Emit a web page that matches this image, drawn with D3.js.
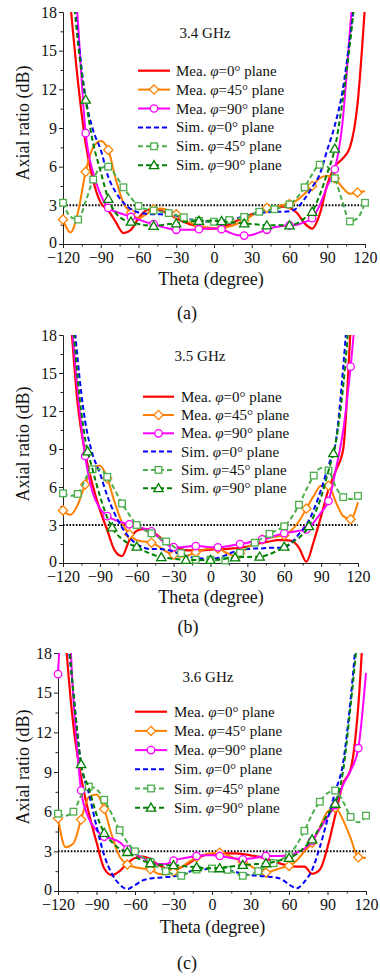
<!DOCTYPE html>
<html>
<head>
<meta charset="utf-8">
<script src="https://cdn.jsdelivr.net/npm/d3@7"></script>
<style>
  body { margin: 0; background: #fff; }
  svg { font-family: "Liberation Serif", "Times New Roman", serif; }
</style>
</head>
<body>
<svg id="chart" width="380" height="977"></svg>
<script>
// theta grid (degree) shared by every series
const theta = [-120,-114,-108,-102,-96,-90,-84,-78,-72,-66,-60,-54,-48,-42,-36,-30,-24,-18,-12,-6,
  0,6,12,18,24,30,36,42,48,54,60,66,72,78,84,90,96,102,108,114,120];

// (a) 3.4 GHz
const mea0A  = [25,18.5,12.5,7.8,4.9,3.2,2.6,1.7,0.85,1.1,2.0,2.6,2.7,2.6,2.3,2.0,1.7,1.5,1.3,1.2,1.2,1.3,1.5,1.8,2.1,2.3,2.5,2.7,2.8,2.9,2.8,2.4,1.6,1.2,2.3,4.6,6.0,6.6,7.5,10.8,18.5];
const mea45A = [1.9,0.9,2.5,5.6,7.5,8.0,7.3,5.0,3.2,2.4,2.0,2.3,2.7,2.75,2.6,2.3,1.9,1.6,1.4,1.3,1.25,1.25,1.35,1.55,1.8,2.2,2.5,2.8,2.9,3.0,3.1,3.4,3.9,4.5,5.1,5.3,5.1,4.4,3.9,4.0,4.1];
const mea90A = [32,26,17,8.6,5.5,3.8,2.8,2.5,2.3,2.1,1.9,1.7,1.55,1.35,1.2,1.1,1.1,1.1,1.15,1.2,1.2,1.15,0.9,0.7,0.65,0.7,0.9,1.1,1.3,1.4,1.45,1.5,1.7,2.0,3.0,4.5,5.8,9.3,16.5,24,32];
const sim0A  = [30,22,16,11.3,8.8,7.3,5.2,4.0,3.2,2.7,2.45,2.35,2.3,2.3,2.25,2.2,2.0,1.9,1.8,1.75,1.75,1.8,1.9,2.0,2.15,2.3,2.4,2.45,2.5,2.5,2.55,2.8,3.5,4.4,5.4,7.3,9.2,11.8,16,21,27];
const sim45A = [3.2,2.1,1.9,3.3,5.0,5.9,6.0,5.3,4.4,3.6,2.95,2.7,2.6,2.5,2.4,2.25,2.07,1.9,1.8,1.75,1.73,1.78,1.86,1.95,2.1,2.3,2.5,2.6,2.7,2.85,3.07,3.6,4.4,5.4,6.15,6.0,5.1,3.3,1.75,2.0,3.2];
const sim90A = [30,22,15.5,11.2,7.8,5.6,3.5,2.4,1.9,1.73,1.55,1.45,1.4,1.45,1.55,1.6,1.7,1.75,1.8,1.8,1.8,1.78,1.7,1.65,1.6,1.55,1.5,1.45,1.45,1.45,1.45,1.6,2.0,2.5,3.8,5.5,7.4,11.0,15.5,21,27];

// (b) 3.5 GHz
const mea0B  = [26,19.5,12.5,8.7,6.2,4.2,2.6,1.0,0.55,1.8,2.55,2.7,2.55,2.1,1.6,1.3,1.1,1.0,1.0,1.0,1.05,1.1,1.1,1.15,1.2,1.3,1.45,1.6,1.7,1.8,1.8,1.75,1.2,0.1,1.7,3.7,5.8,7.3,9.0,18.5,28];
const mea45B = [4.15,3.8,4.6,6.2,7.4,7.7,6.7,4.8,3.2,2.25,1.8,1.7,1.6,1.3,0.9,0.65,0.5,0.6,0.85,1.05,1.15,1.15,0.85,0.6,0.75,1.2,1.6,1.85,2.0,2.1,2.2,2.6,3.3,4.3,5.3,6.1,6.1,4.8,3.7,3.45,4.8];
const mea90B = [30,20.5,13.5,8.45,5.6,4.3,3.7,3.4,3.2,3.05,2.9,2.7,2.5,2.0,1.5,1.25,1.25,1.3,1.34,1.3,1.25,1.24,1.3,1.4,1.5,1.6,1.75,1.87,2.0,2.2,2.35,2.45,2.55,2.65,3.2,4.0,4.9,7.4,10.5,15.5,22];
const sim0B  = [32,23,16,11.2,8.6,7.1,5.3,3.9,2.8,2.0,1.5,1.2,1.1,1.1,1.05,0.9,0.7,0.5,0.4,0.35,0.35,0.4,0.6,0.85,1.0,1.1,1.15,1.15,1.2,1.2,1.25,1.6,2.3,3.0,4.2,5.8,7.7,9.6,15.5,23,30];
const sim45B = [5.5,5.3,5.45,6.6,7.4,7.4,6.8,5.8,4.7,3.8,3.0,2.6,2.34,2.0,1.7,1.3,0.78,0.45,0.25,0.22,0.26,0.22,0.2,0.45,0.8,1.2,1.6,1.95,2.3,2.6,2.9,3.6,4.6,5.8,6.9,7.5,7.3,6.0,5.2,5.05,5.3];
const sim90B = [32,22,14.5,9.8,7.4,5.3,3.6,2.5,1.9,1.5,1.29,0.95,0.7,0.5,0.4,0.33,0.27,0.24,0.23,0.23,0.24,0.28,0.34,0.42,0.47,0.48,0.49,0.52,0.7,0.95,1.29,1.6,2.0,2.6,3.7,5.2,7.3,9.6,14,21,30];

// (c) 3.6 GHz
const mea0C  = [28,19,12.5,8.6,5.9,3.7,1.7,1.2,1.5,2.1,2.5,2.6,2.4,2.0,1.7,1.6,1.8,2.1,2.45,2.7,2.8,2.85,2.85,2.85,2.8,2.7,2.6,2.45,2.25,2.05,1.9,1.85,1.85,1.3,1.6,3.3,5.7,8.1,9.2,14,24];
const mea45C = [5.5,3.3,3.6,5.4,7.1,7.3,6.2,4.2,2.6,2.0,1.8,1.7,1.64,1.3,1.25,1.46,1.8,2.2,2.55,2.75,2.85,2.9,2.7,2.45,2.2,1.9,1.55,1.39,1.55,1.75,1.9,2.3,3.0,3.66,4.8,6.0,6.3,5.4,4.0,2.55,2.5];
const mea90C = [16.4,24,14.5,7.6,5.5,4.6,4.1,3.95,3.7,3.15,2.8,2.5,2.2,2.05,2.05,2.3,2.45,2.55,2.65,2.7,2.7,2.65,2.55,2.45,2.4,2.45,2.55,2.65,2.65,2.65,2.7,2.9,3.2,3.8,4.7,5.6,6.5,8.0,9.1,10.8,16.5];
const sim0C  = [30,21,15,9.6,7.4,4.9,2.7,1.3,0.5,0.15,0.45,0.8,0.95,1.0,1.05,1.1,1.25,1.45,1.6,1.65,1.7,1.7,1.6,1.45,1.3,1.2,1.15,1.1,1.05,0.9,0.5,0.2,0.7,1.6,3.3,5.4,7.5,9.6,14.5,21,28];
const sim45C = [5.85,5.7,6.0,7.2,7.9,7.7,6.9,5.8,4.6,3.7,3.0,2.55,2.2,1.8,1.5,1.25,1.15,1.4,1.62,1.7,1.7,1.7,1.6,1.35,1.15,1.25,1.5,1.8,2.1,2.4,2.7,3.5,4.55,5.8,6.75,7.4,7.6,6.8,5.6,5.2,5.7];
const sim90C = [30,22,15,9.6,7.8,5.8,4.4,3.7,3.2,2.95,2.6,2.3,2.1,2.0,1.95,1.95,1.9,1.85,1.8,1.75,1.72,1.72,1.8,1.9,1.97,2.0,2.05,2.1,2.2,2.35,2.5,2.8,3.3,3.9,4.8,5.8,6.6,9.0,14,20,27];

// marker positions (degree)
const marks18 = [-120,-102,-84,-66,-48,-30,-12,6,24,42,60,78,96,114];
const marks12 = [-120,-108,-96,-84,-72,-60,-48,-36,-24,-12,0,12,24,36,48,60,72,84,96,108,120];
const marks20 = [-120,-100,-80,-60,-40,-20,0,20,40,60,80,100,120];

const xTicks = [-120,-90,-60,-30,0,30,60,90,120];
const yTicks = [0,3,6,9,12,15,18];
const refLevel = 3;
const freqs = ["3.4 GHz","3.5 GHz","3.6 GHz"];
const captions = ["(a)","(b)","(c)"];
const legendPre = ["Mea. ","Mea. ","Mea. ","Sim. ","Sim. ","Sim. "];
const legendPost = ["=0\u00b0 plane","=45\u00b0 plane","=90\u00b0 plane","=0\u00b0 plane","=45\u00b0 plane","=90\u00b0 plane"];

const styles = [
  { color: "#ff0000", dash: null,  marker: null,       width: 2.2 },
  { color: "#ff8000", dash: null,  marker: "diamond",  width: 2 },
  { color: "#ff00ff", dash: null,  marker: "circle",   width: 2 },
  { color: "#0000ff", dash: "5,3", marker: null,       width: 2 },
  { color: "#4cae4c", dash: "5,3", marker: "square",   width: 2 },
  { color: "#008000", dash: "5,3", marker: "triangle", width: 2 }
];

const panels = [
  { series: [mea0A, mea45A, mea90A, sim0A, sim45A, sim90A], marks: [null, marks18, marks18, null, marks12, marks18],
    left: 63, right: 365, top: 12, bottom: 244,
    leg: { x0: 138, x1: 170, tx: 176, y0: 70.7, dy: 18.9 }, freq: [205, 38], xt: [211, 285], cap: [187, 319] },
  { series: [mea0B, mea45B, mea90B, sim0B, sim45B, sim90B], marks: [null, marks18, marks18, null, marks12, marks20],
    left: 63, right: 358, top: 335, bottom: 563,
    leg: { x0: 143, x1: 174, tx: 181, y0: 396.7, dy: 18.3 }, freq: [200, 361], xt: [211, 603], cap: [188, 633] },
  { series: [mea0C, mea45C, mea90C, sim0C, sim45C, sim90C], marks: [null, marks18, marks18, null, marks12, marks18],
    left: 58, right: 366, top: 653, bottom: 891,
    leg: { x0: 135, x1: 167, tx: 174, y0: 711.7, dy: 19.2 }, freq: [208, 682], xt: [212.5, 933], cap: [187, 969] }
];

const svg = d3.select("#chart");

function drawMarker(g, type, x, y, color) {
  let el;
  if (type === "circle") {
    el = g.append("circle").attr("cx", x).attr("cy", y).attr("r", 3.7);
  } else if (type === "diamond") {
    const r = 4.6;
    el = g.append("path").attr("d", `M${x},${y - r}L${x + r},${y}L${x},${y + r}L${x - r},${y}Z`);
  } else if (type === "square") {
    const r = 3.3;
    el = g.append("rect").attr("x", x - r).attr("y", y - r).attr("width", 2 * r).attr("height", 2 * r);
  } else {
    el = g.append("path").attr("d", d3.symbol(d3.symbolTriangle, 38)()).attr("transform", `translate(${x},${y + 0.8})`);
  }
  el.attr("fill", "#fff").attr("stroke", color).attr("stroke-width", 1.3);
}

// find the point of a rendered (x-monotonic) path at a given x
function pointAtX(node, px) {
  let lo = 0, hi = node.getTotalLength();
  for (let i = 0; i < 40; i++) {
    const mid = (lo + hi) / 2;
    if (node.getPointAtLength(mid).x < px) lo = mid; else hi = mid;
  }
  return node.getPointAtLength((lo + hi) / 2);
}

panels.forEach((p, pi) => {
  const x = d3.scaleLinear().domain([-120, 120]).range([p.left, p.right]);
  const y = d3.scaleLinear().domain([0, 18]).range([p.bottom, p.top]);
  const g = svg.append("g");

  const clipId = "clip" + pi;
  svg.append("clipPath").attr("id", clipId).append("rect")
    .attr("x", p.left - 6).attr("y", p.top).attr("width", p.right - p.left + 12).attr("height", p.bottom - p.top + 6);

  // axes
  const xAxis = d3.axisBottom(x).tickValues(xTicks).tickSize(4).tickPadding(4).tickFormat(d3.format("d"));
  const xMinor = d3.axisBottom(x).tickValues(xTicks.slice(0, -1).map(t => t + 15)).tickSize(2.5).tickFormat("");
  const yAxis = d3.axisLeft(y).tickValues(yTicks).tickSize(4).tickPadding(2);
  const yMinor = d3.axisLeft(y).tickValues(yTicks.slice(0, -1).map(t => t + 1.5)).tickSize(2.5).tickFormat("");

  const gx = g.append("g").attr("transform", `translate(0,${p.bottom})`).call(xAxis);
  g.append("g").attr("transform", `translate(0,${p.bottom})`).call(xMinor).select(".domain").remove();
  const gy = g.append("g").attr("transform", `translate(${p.left},0)`).call(yAxis);
  g.append("g").attr("transform", `translate(${p.left},0)`).call(yMinor).select(".domain").remove();
  g.selectAll(".tick line, .domain").attr("stroke", "#222").attr("stroke-width", 1);
  gx.selectAll("text").attr("font-size", 16).attr("fill", "#111").attr("font-family", "Liberation Serif");
  gy.selectAll("text").attr("font-size", 16).attr("fill", "#111").attr("font-family", "Liberation Serif")
    .attr("dy", d => d === 0 ? "0.2em" : "0.32em");

  // 3 dB reference
  g.append("line")
    .attr("x1", x(-120)).attr("x2", x(120)).attr("y1", y(refLevel)).attr("y2", y(refLevel))
    .attr("stroke", "#000").attr("stroke-width", 2).attr("stroke-dasharray", "1.6,1.6");

  const plot = g.append("g").attr("clip-path", `url(#${clipId})`);
  const line = d3.line().x((d, i) => x(theta[i])).y(d => y(d)).curve(d3.curveMonotoneX);

  p.series.forEach((vals, si) => {
    const s = styles[si];
    const path = plot.append("path").datum(vals)
      .attr("d", line)
      .attr("fill", "none")
      .attr("stroke", s.color)
      .attr("stroke-width", s.width)
      .attr("stroke-dasharray", s.dash);
    if (p.marks[si]) {
      const node = path.node();
      p.marks[si].forEach(t => {
        const pt = pointAtX(node, x(t));
        drawMarker(plot, s.marker, pt.x, pt.y, s.color);
      });
    }
  });

  // legend
  const lg = g.append("g");
  styles.forEach((s, si) => {
    const ly = p.leg.y0 + si * p.leg.dy;
    lg.append("line").attr("x1", p.leg.x0).attr("x2", p.leg.x1).attr("y1", ly).attr("y2", ly)
      .attr("stroke", s.color).attr("stroke-width", s.width).attr("stroke-dasharray", s.dash);
    if (s.marker) drawMarker(lg, s.marker, (p.leg.x0 + p.leg.x1) / 2, ly, s.color);
    const t = lg.append("text").attr("x", p.leg.tx).attr("y", ly + 5).attr("font-size", 15).attr("fill", "#111");
    t.append("tspan").text(legendPre[si]);
    t.append("tspan").attr("font-style", "italic").text("\u03c6");
    t.append("tspan").text(legendPost[si]);
  });

  g.append("text").attr("x", p.freq[0]).attr("y", p.freq[1]).attr("text-anchor", "middle")
    .attr("font-size", 15).attr("fill", "#111").text(freqs[pi]);

  g.append("text").attr("x", p.xt[0]).attr("y", p.xt[1]).attr("text-anchor", "middle")
    .attr("font-size", 18).attr("fill", "#111").text("Theta (degree)");

  const cy = (p.top + p.bottom) / 2 - 5;
  g.append("text").attr("transform", `translate(29,${cy}) rotate(-90)`).attr("text-anchor", "middle")
    .attr("font-size", 18).attr("fill", "#111").text("Axial ratio (dB)");

  g.append("text").attr("x", p.cap[0]).attr("y", p.cap[1]).attr("text-anchor", "middle")
    .attr("font-size", 18).attr("fill", "#111").text(captions[pi]);
});
</script>
</body>
</html>
